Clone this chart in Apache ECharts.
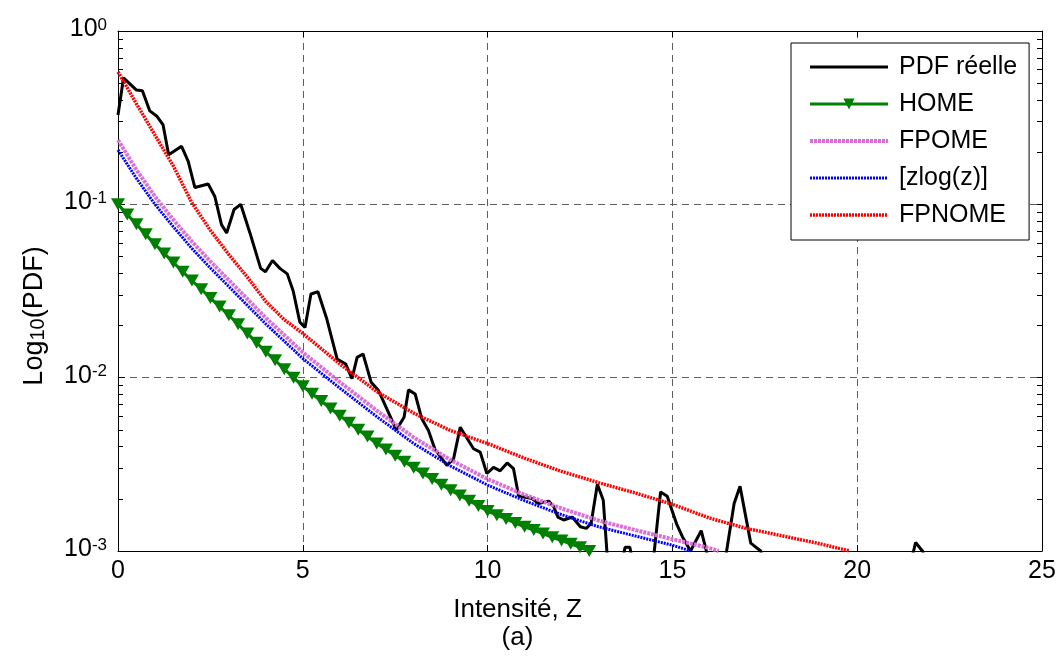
<!DOCTYPE html>
<html>
<head>
<meta charset="utf-8">
<script src="https://cdn.jsdelivr.net/npm/echarts@6/dist/echarts.min.js"></script>
<style>html,body{margin:0;background:#fff}#chart{width:1061px;height:657px}</style>
</head>
<body>
<div id="chart"></div>
<script>
// PDF réelle (measured), values below 1e-3 are clipped by the axis
var pdfZ = [0, 0.15, 0.50, 0.66, 0.86, 1.06, 1.22, 1.37, 1.72, 1.90, 2.08, 2.44, 2.62, 2.80, 2.94, 3.14, 3.32, 3.57, 3.86, 3.99,
  4.18, 4.38, 4.58, 4.74, 4.92, 5.06, 5.22, 5.41, 5.65, 5.93, 6.16, 6.33, 6.47, 6.63, 6.85, 7.05, 7.53, 7.74, 7.86, 8.04,
  8.22, 8.40, 8.58, 8.90, 9.08, 9.26, 9.62, 9.80, 9.98, 10.16, 10.34, 10.53, 10.70, 10.84, 11.02, 11.20, 11.38, 11.65, 11.79, 11.90,
  12.06, 12.29, 12.51, 12.67, 12.80, 12.97, 13.13, 13.30, 13.60, 13.72, 13.85, 13.95, 14.40, 14.68, 14.86, 15.11, 15.27, 15.49, 15.78, 15.93,
  16.10, 16.45, 16.67, 16.83, 17.12, 17.39, 17.60, 21.42, 21.58, 21.78, 21.90];
var pdfP = [0.328, 0.537, 0.456, 0.452, 0.346, 0.321, 0.287, 0.193, 0.216, 0.177, 0.125, 0.131, 0.111, 0.0764, 0.0684, 0.0933, 0.100, 0.0684, 0.0427, 0.0408,
  0.0474, 0.0427, 0.0397, 0.0316, 0.0209, 0.0195, 0.0304, 0.0313, 0.0218, 0.0128, 0.0120, 0.00987, 0.0131, 0.0137, 0.0094, 0.00842, 0.0050, 0.00591, 0.0085, 0.00805,
  0.00579, 0.00496, 0.00384, 0.00312, 0.00341, 0.00518, 0.00389, 0.00372, 0.0028, 0.00304, 0.0029, 0.00322, 0.00299, 0.00208, 0.00204, 0.00201, 0.00188, 0.00194, 0.0018, 0.00157,
  0.00151, 0.00157, 0.00138, 0.00135, 0.00144, 0.00243, 0.00196, 0.0006, 0.0008, 0.00105, 0.00105, 0.0008, 0.0006, 0.00219, 0.00207, 0.00144, 0.00121, 0.00100, 0.00131, 0.00098,
  0.0006, 0.00095, 0.00188, 0.00236, 0.00111, 0.00100, 0.0006, 0.0008, 0.00112, 0.00099, 0.0006];

var homeZ = [0, 0.25, 0.5, 0.75, 1, 1.25, 1.5, 1.75, 2, 2.25, 2.5, 2.75, 3, 3.25, 3.5, 3.75, 4, 4.25, 4.5, 4.75,
  5, 5.25, 5.5, 5.75, 6, 6.25, 6.5, 6.75, 7, 7.25, 7.5, 7.75, 8, 8.25, 8.5, 8.75, 9, 9.25, 9.5, 9.75,
  10, 10.25, 10.5, 10.75, 11, 11.25, 11.5, 11.75, 12, 12.25, 12.5, 12.75];
var homeP = [0.1, 0.0875, 0.0767, 0.0671, 0.0589, 0.0521, 0.0462, 0.0409, 0.0363, 0.0324, 0.0288, 0.0257, 0.0229, 0.0203, 0.0180, 0.0159, 0.0141, 0.0126, 0.0112, 0.0100,
  0.00891, 0.00808, 0.00733, 0.00664, 0.00603, 0.00550, 0.00501, 0.00457, 0.00417, 0.00385, 0.00355, 0.00327, 0.00302, 0.00280, 0.00260, 0.00241, 0.00224, 0.00209, 0.00195, 0.00182,
  0.00170, 0.00161, 0.00153, 0.00145, 0.00138, 0.00132, 0.00126, 0.00120, 0.00115, 0.00110, 0.00105, 0.00100];

var fpomeZ = [0, 0.5, 1, 1.5, 2, 2.5, 3, 4, 5, 6, 7, 8, 9, 10, 11, 12, 13, 14, 15, 16, 16.25];
var fpomeP = [0.235, 0.158, 0.111, 0.0813, 0.0610, 0.0468, 0.0365, 0.0221, 0.0140, 0.00944, 0.00646, 0.00452, 0.00335, 0.00260, 0.00211, 0.00176, 0.00150, 0.00132, 0.00117, 0.00104, 0.00100];

var zlogZ = [0, 0.5, 1, 1.5, 2, 2.5, 3, 4, 5, 6, 7, 8, 9, 10, 11, 12, 13, 14, 15, 15.5];
var zlogP = [0.206, 0.141, 0.100, 0.0741, 0.0556, 0.0429, 0.0335, 0.0204, 0.0129, 0.00871, 0.00596, 0.00417, 0.00309, 0.00240, 0.00195, 0.00162, 0.00138, 0.00122, 0.00108, 0.00100];

var fpnomeZ = [0, 0.5, 1, 1.5, 2, 2.5, 3, 3.5, 4, 4.5, 5, 6, 7, 8, 9, 10, 11, 12, 13, 14, 15, 16, 17, 18, 19, 19.8];
var fpnomeP = [0.581, 0.380, 0.251, 0.166, 0.102, 0.0708, 0.0513, 0.0380, 0.0275, 0.0216, 0.0180, 0.0120, 0.00832, 0.00624, 0.00495, 0.00417, 0.00343, 0.00288, 0.00248, 0.00216,
  0.00186, 0.00155, 0.00135, 0.00122, 0.00110, 0.00100];

var xTicks = [0, 5, 10, 15, 20, 25];
var yMinorTicks = [0.001, 0.002, 0.003, 0.004, 0.005, 0.006, 0.007, 0.008, 0.009,
  0.01, 0.02, 0.03, 0.04, 0.05, 0.06, 0.07, 0.08, 0.09,
  0.1, 0.2, 0.3, 0.4, 0.5, 0.6, 0.7, 0.8, 0.9, 1];

function zip(a, b) {
  return a.map(function (v, i) { return [v, b[i]]; });
}

var font = 'Liberation Sans, Arial, Helvetica, sans-serif';
var myChart = echarts.init(document.getElementById('chart'));

var gridLine = { show: true, lineStyle: { color: '#5e5e5e', width: 1, type: [7, 5] } };
var blackLine = { show: true, lineStyle: { color: '#000', width: 1 } };
var noMark = { opacity: 0 };

var option = {
  animation: false,
  backgroundColor: '#fff',
  textStyle: { fontFamily: font },
  grid: { left: 118, right: 19, top: 31, bottom: 106, containLabel: false },
  legend: {
    orient: 'vertical', left: 791, top: 43,
    itemWidth: 78, itemHeight: 14, itemGap: 11,
    padding: [11, 12, 12, 17],
    backgroundColor: '#fff', borderColor: '#000', borderWidth: 1, borderRadius: 0,
    textStyle: { fontSize: 25, color: '#000', lineHeight: 26, padding: [0, 0, 0, 6], fontFamily: font },
    data: [
      { name: 'PDF réelle', itemStyle: noMark, lineStyle: { width: 3, color: '#000' } },
      { name: 'HOME', lineStyle: { width: 3, color: '#008000' } },
      { name: 'FPOME', itemStyle: noMark, lineStyle: { width: 4, color: '#DA70D6', type: [3, 1] } },
      { name: '[zlog(z)]', itemStyle: noMark, lineStyle: { width: 3, color: '#0000FF', type: [2, 1] } },
      { name: 'FPNOME', itemStyle: noMark, lineStyle: { width: 3.5, color: '#FF0000', type: [2, 1] } }
    ]
  },
  xAxis: [{
    type: 'value', position: 'bottom', min: 0, max: 25, interval: 5,
    axisLine: blackLine,
    axisTick: { show: true, inside: true, length: 6, lineStyle: { color: '#000' } },
    axisLabel: { fontSize: 25, color: '#000', margin: 8, fontFamily: font,
      formatter: function (v) { return xTicks.indexOf(v) >= 0 ? String(v) : ''; } },
    splitLine: gridLine,
    name: 'Intensité, Z\n(a)', nameLocation: 'middle', nameGap: 45,
    nameTextStyle: { fontSize: 26, color: '#000', lineHeight: 28, fontFamily: font, padding: [0, 125, 0, 0] }
  }, {
    type: 'value', position: 'top', min: 0, max: 25, interval: 5,
    axisLine: blackLine,
    axisTick: { show: true, inside: true, length: 6, lineStyle: { color: '#000' } },
    axisLabel: { show: false }, splitLine: { show: false }
  }],
  yAxis: [{
    type: 'log', logBase: 10, min: 0.001, max: 1, position: 'left',
    axisLine: blackLine,
    axisTick: { show: true, inside: true, length: 7, lineStyle: { color: '#000' } },
    axisLabel: {
      margin: 11, color: '#000', padding: [0, 0, 4, 0],
      formatter: function (v) {
        var e = Math.round(Math.log(v) / Math.LN10);
        return '{b|10}{s|' + e + '}';
      },
      rich: {
        b: { fontSize: 25, lineHeight: 25, verticalAlign: 'bottom', color: '#000', fontFamily: font },
        s: { fontSize: 17, lineHeight: 17, verticalAlign: 'top', padding: [0, 0, 12, 0], color: '#000', fontFamily: font }
      }
    },
    splitLine: gridLine,
    name: '{a|Log}{s|10}{a|(PDF)}', nameLocation: 'middle', nameGap: 70, nameRotate: 90,
    nameTextStyle: {
      padding: [0, 50, 0, 0],
      rich: {
        a: { fontSize: 27, lineHeight: 27, verticalAlign: 'top', color: '#000', fontFamily: font },
        s: { fontSize: 20, lineHeight: 20, verticalAlign: 'bottom', padding: [10, 0, 0, 0], color: '#000', fontFamily: font }
      }
    }
  }, {
    type: 'log', logBase: 10, min: 0.001, max: 1, position: 'left',
    axisLine: { show: false },
    axisTick: { show: true, inside: true, length: 5, customValues: yMinorTicks, lineStyle: { color: '#000' } },
    axisLabel: { show: false }, splitLine: { show: false }
  }, {
    type: 'log', logBase: 10, min: 0.001, max: 1, position: 'right',
    axisLine: blackLine,
    axisTick: { show: true, inside: true, length: 5, customValues: yMinorTicks, lineStyle: { color: '#000' } },
    axisLabel: { show: false }, splitLine: { show: false }
  }],
  series: [{
    name: 'PDF réelle', type: 'line', data: zip(pdfZ, pdfP), clip: true,
    symbol: 'none', lineStyle: { color: '#000', width: 3 }, itemStyle: { color: '#000' }, z: 2
  }, {
    name: 'HOME', type: 'line', data: zip(homeZ, homeP), clip: true,
    symbol: 'triangle', symbolRotate: 180, symbolSize: [14, 12], showSymbol: true,
    lineStyle: { color: '#008000', width: 3 }, itemStyle: { color: '#008000' }, z: 3
  }, {
    name: 'FPOME', type: 'line', data: zip(fpomeZ, fpomeP), clip: true,
    symbol: 'none', lineStyle: { color: '#DA70D6', width: 4, type: [3, 1] }, itemStyle: { color: '#DA70D6' }, z: 4
  }, {
    name: '[zlog(z)]', type: 'line', data: zip(zlogZ, zlogP), clip: true,
    symbol: 'none', lineStyle: { color: '#0000FF', width: 3, type: [2, 1] }, itemStyle: { color: '#0000FF' }, z: 5
  }, {
    name: 'FPNOME', type: 'line', data: zip(fpnomeZ, fpnomeP), clip: true,
    symbol: 'none', lineStyle: { color: '#FF0000', width: 3.5, type: [2, 1] }, itemStyle: { color: '#FF0000' }, z: 6
  }]
};
myChart.setOption(option);
</script>
</body>
</html>
